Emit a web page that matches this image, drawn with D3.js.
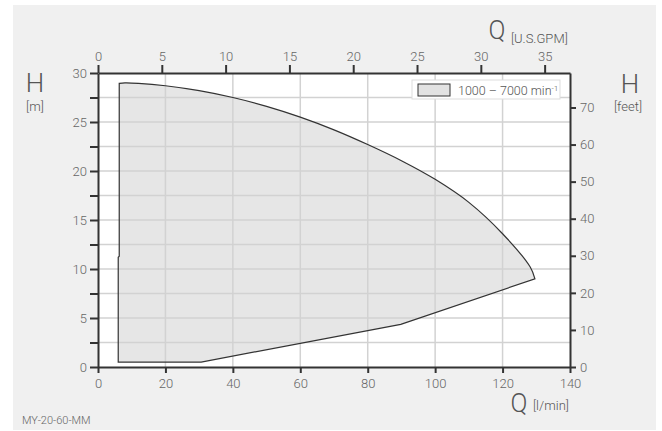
<!DOCTYPE html>
<html>
<head>
<meta charset="utf-8">
<script src="https://cdn.jsdelivr.net/npm/d3@7"></script>
<style>
  body { margin: 0; background: #fff; }
  svg { display: block; font-family: Roboto, "Liberation Sans", sans-serif; font-weight: 300; }
</style>
</head>
<body>
<svg id="chart" width="662" height="431"></svg>
<script>
// operating range envelope, Q in l/min, H in m
// upper (max speed) curve
const topQ = [6.3, 8, 12, 20, 30, 40, 50, 60, 70, 80, 90, 100, 110, 120, 128.2, 129.6];
const topH = [28.95, 29.0, 28.95, 28.7, 28.2, 27.5, 26.6, 25.5, 24.2, 22.7, 21.05, 19.15, 16.8, 13.6, 10.2, 9.0];
// lower boundary, back from the tip to the start of the left edge
const lowQ = [89.8, 30.6, 6, 6, 6.3];
const lowH = [4.35, 0.5, 0.5, 11.2, 11.3];

const lpmTicks = [0, 20, 40, 60, 80, 100, 120, 140];
const gpmTicks = [0, 5, 10, 15, 20, 25, 30, 35];
const meterTicks = [0, 2.5, 5, 7.5, 10, 12.5, 15, 17.5, 20, 22.5, 25, 27.5, 30];
const feetTicks = [0, 10, 20, 30, 40, 50, 60, 70];
const legendLabel = "1000 – 7000 min";

const svg = d3.select("#chart");
const L = 98, R = 570, T = 73, B = 367;

const x = d3.scaleLinear().domain([0, 140]).range([L, R]);
const xGpm = d3.scaleLinear().domain([0, 140 / 3.785]).range([L, R]);
const y = d3.scaleLinear().domain([0, 30]).range([B, T]);
const yFeet = d3.scaleLinear().domain([0, 79.3]).range([B, T]);

// card background
svg.append("rect").attr("x", 13).attr("y", 5).attr("width", 643).attr("height", 425).attr("fill", "#f0f0f0");
svg.append("rect").attr("x", L).attr("y", T).attr("width", R - L).attr("height", B - T).attr("fill", "#fff");

const topPts = topQ.map((q, i) => [x(q), y(topH[i])]);
const lowPts = lowQ.map((q, i) => [x(q), y(lowH[i])]);
const curve = d3.line().curve(d3.curveCatmullRom.alpha(0.5));
const envelope = curve(topPts) + lowPts.map(p => "L" + p[0] + "," + p[1]).join("") + "Z";

svg.append("path").attr("d", envelope).attr("fill", "#e6e6e6");

// grid
const grid = svg.append("g").attr("stroke", "#d2d2d2").attr("stroke-width", 1.5);
grid.selectAll(".h").data(meterTicks.filter(v => v > 0 && v < 30)).enter().append("line")
  .attr("x1", L).attr("x2", R).attr("y1", d => y(d)).attr("y2", d => y(d));
grid.selectAll(".v").data(lpmTicks.filter(v => v > 0 && v < 140)).enter().append("line")
  .attr("y1", T).attr("y2", B).attr("x1", d => x(d)).attr("x2", d => x(d));

svg.append("path").attr("d", envelope).attr("fill", "none")
  .attr("stroke", "#333").attr("stroke-width", 1.2);

function styleAxis(g) {
  g.select(".domain").attr("stroke", "#333").attr("stroke-width", 2);
  g.selectAll(".tick line").attr("stroke", "#333").attr("stroke-width", 2);
  g.selectAll(".tick text").attr("fill", "#666").style("font-size", "13px")
    .style("font-family", "Roboto, sans-serif").style("font-weight", 300);
}

svg.append("g").attr("transform", `translate(0,${B})`)
  .call(d3.axisBottom(x).tickValues(lpmTicks).tickSize(6).tickSizeOuter(0).tickPadding(6))
  .call(styleAxis);

svg.append("g").attr("transform", `translate(0,${T})`)
  .call(d3.axisTop(xGpm).tickValues(gpmTicks).tickSize(8).tickSizeOuter(0).tickPadding(4))
  .call(styleAxis);

svg.append("g").attr("transform", `translate(${L},0)`)
  .call(d3.axisLeft(y).tickValues(meterTicks).tickSize(8).tickSizeOuter(0).tickPadding(3)
    .tickFormat(d => d % 5 === 0 ? d : ""))
  .call(styleAxis);

svg.append("g").attr("transform", `translate(${R},0)`)
  .call(d3.axisRight(yFeet).tickValues(feetTicks).tickSize(6).tickSizeOuter(0).tickPadding(4))
  .call(styleAxis);

// axis titles
const txt = (xp, yp, s, size, anchor) => svg.append("text").attr("x", xp).attr("y", yp)
  .attr("fill", "#555").style("font-size", size + "px").attr("text-anchor", anchor || "start").text(s);

txt(35, 92, "H", 26, "middle");
txt(35, 111, "[m]", 13, "middle");
txt(630, 93, "H", 26, "middle");
txt(628, 111, "[feet]", 13, "middle");
txt(497, 39, "Q", 25, "middle");
txt(511, 43, "[U.S.GPM]", 13);
txt(519, 412, "Q", 25, "middle");
txt(533, 410, "[l/min]", 13);
txt(22, 424, "MY-20-60-MM", 11).attr("fill", "#666");

// legend
const lg = svg.append("g");
lg.append("rect").attr("x", 412).attr("y", 80).attr("width", 148).attr("height", 19)
  .attr("fill", "#fff").attr("stroke", "#ddd");
lg.append("rect").attr("x", 418).attr("y", 84).attr("width", 32).attr("height", 12)
  .attr("fill", "#e2e2e2").attr("stroke", "#333").attr("stroke-width", 1);
const lt = lg.append("text").attr("x", 458).attr("y", 94.5).attr("fill", "#555")
  .style("font-size", "12.5px").text(legendLabel);
lt.append("tspan").attr("dy", -4).style("font-size", "8px").text("-1");
</script>
</body>
</html>
